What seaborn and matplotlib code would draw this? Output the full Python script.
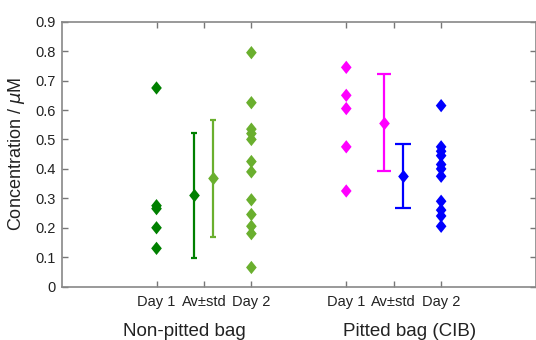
import numpy as np
import pandas as pd
import matplotlib
matplotlib.use("Agg")
import matplotlib.pyplot as plt
import seaborn as sns

# ── Data ────────────────────────────────────────────────────────────────────
TICK_LABELS = ["Day 1", "Av±std", "Day 2", "Day 1", "Av±std", "Day 2"]
TICK_POS = [2, 3, 4, 6, 7, 8]

nonpitted_day1 = [0.675, 0.275, 0.265, 0.20, 0.13]
nonpitted_day2 = [0.795, 0.625, 0.535, 0.52, 0.50, 0.425, 0.39,
                  0.295, 0.245, 0.205, 0.18, 0.065]
pitted_day1 = [0.745, 0.65, 0.605, 0.475, 0.325]
pitted_day2 = [0.615, 0.475, 0.46, 0.445, 0.415, 0.40, 0.375,
               0.29, 0.26, 0.24, 0.205]

# mean and std shown in the "Av±std" column, one per series
series_names = ["np_d1", "np_d2", "p_d1", "p_d2"]
series_means = [0.31, 0.368, 0.557, 0.376]
series_stds = [0.212, 0.199, 0.165, 0.11]

COLORS = {"np_d1": "#008000", "np_d2": "#6aaf2e",
          "p_d1": "#ff00ff", "p_d2": "#0000ff"}
X_POS = {"np_d1": 2, "np_d2": 4, "p_d1": 6, "p_d2": 8}
MEAN_POS = {"np_d1": 2.8, "np_d2": 3.2, "p_d1": 6.8, "p_d2": 7.2}
CAPS = {"np_d1": 2.5, "np_d2": 2.5, "p_d1": 5, "p_d2": 5.5}

# slightly tall diamond marker
DIAMOND = [(0, 1), (0.8, 0), (0, -1), (-0.8, 0), (0, 1)]


def build_frame():
    rows = []
    for name, vals in zip(series_names,
                          [nonpitted_day1, nonpitted_day2, pitted_day1, pitted_day2]):
        for v in vals:
            rows.append({"series": name, "x": X_POS[name], "value": v})
    return pd.DataFrame(rows)


def main():
    sns.set_theme(style="ticks")
    plt.rcParams["font.family"] = ["Liberation Sans", "DejaVu Sans"]

    fig = plt.figure(figsize=(5.36, 3.40), dpi=100)
    ax = fig.add_axes([0.115, 0.157, 0.885, 0.779])

    df = build_frame()
    sns.scatterplot(data=df, x="x", y="value", hue="series", palette=COLORS,
                    marker=DIAMOND, s=92, linewidth=0, legend=False, ax=ax,
                    zorder=3)

    # mean ± std bars, then the mean marker on top
    for name, m, sd in zip(series_names, series_means, series_stds):
        ax.errorbar(MEAN_POS[name], m, yerr=sd, fmt="none", ecolor=COLORS[name],
                    elinewidth=1.6, capsize=CAPS[name], capthick=1.6, zorder=3)
        ax.plot(MEAN_POS[name], m, linestyle="none", marker=DIAMOND,
                markersize=9.6, markeredgewidth=0, color=COLORS[name], zorder=4)

    ax.set_xlim(0, 10)
    ax.set_ylim(0, 0.9)
    ax.set_xticks(TICK_POS)
    ax.set_xticklabels(TICK_LABELS)
    ax.set_yticks(np.arange(0, 0.91, 0.1))
    ax.set_yticklabels(["0"] + [f"{v:.1f}" for v in np.arange(0.1, 0.91, 0.1)])
    ax.set_xlabel("")
    ax.set_ylabel("Concentration / $\\mu$M", fontsize=13, color="#222222",
                  labelpad=6)

    ax.tick_params(direction="in", length=4, width=1, color="#777777",
                   labelsize=10.5, labelcolor="#222222", top=True, right=True,
                   pad=4)
    ax.tick_params(axis="x", pad=6)
    for sp in ax.spines.values():
        sp.set_visible(True)
        sp.set_color("#888888")
        sp.set_linewidth(1.2)

    # group labels under the tick labels
    trans = ax.get_xaxis_transform()
    ax.text(2.59, -0.17, "Non-pitted bag", transform=trans, ha="center",
            va="center", fontsize=13.5, color="#222222")
    ax.text(7.33, -0.17, "Pitted bag (CIB)", transform=trans, ha="center",
            va="center", fontsize=13.5, color="#222222")

    fig.savefig("out.png", dpi=100)
    plt.close(fig)


if __name__ == "__main__":
    main()
